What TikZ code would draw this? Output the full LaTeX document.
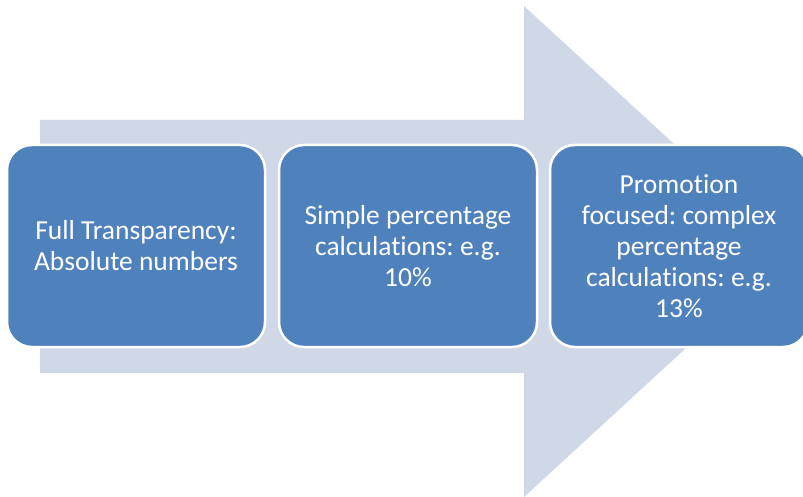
\documentclass[tikz,border=0pt]{standalone}
\usepackage{fontspec}
\setmainfont{Carlito}[Ligatures={NoCommon}]
\frenchspacing
\definecolor{arrowfill}{HTML}{D0D8E8}
\definecolor{stagefill}{HTML}{4F81BD}
\begin{document}
\begin{tikzpicture}[x=1pt,y=-1pt,
  stagebox/.style={draw=white, line width=2.5pt, fill=stagefill,
    rounded corners=25pt, minimum width=258pt, minimum height=202pt,
    text=white, align=center, inner sep=0pt,
    font=\fontsize{27.5}{31}\selectfont}]
  \useasboundingbox (0,0) rectangle (803,497);
  % background block arrow
  \fill[arrowfill] (40,120) -- (524,120) -- (524,6) -- (791,251.5)
    -- (524,497) -- (524,373) -- (40,373) -- cycle;
  % three stages
  \node[stagebox] (s1) at (136,246) {Full Transparency:\\Absolute numbers};
  \node[stagebox] (s2) at (408,246) {Simple percentage\\calculations: e.g.\\10\%};
  \node[stagebox] (s3) at (679,246) {Promotion\\focused: complex\\percentage\\calculations: e.g.\\13\%};
\end{tikzpicture}
\end{document}
